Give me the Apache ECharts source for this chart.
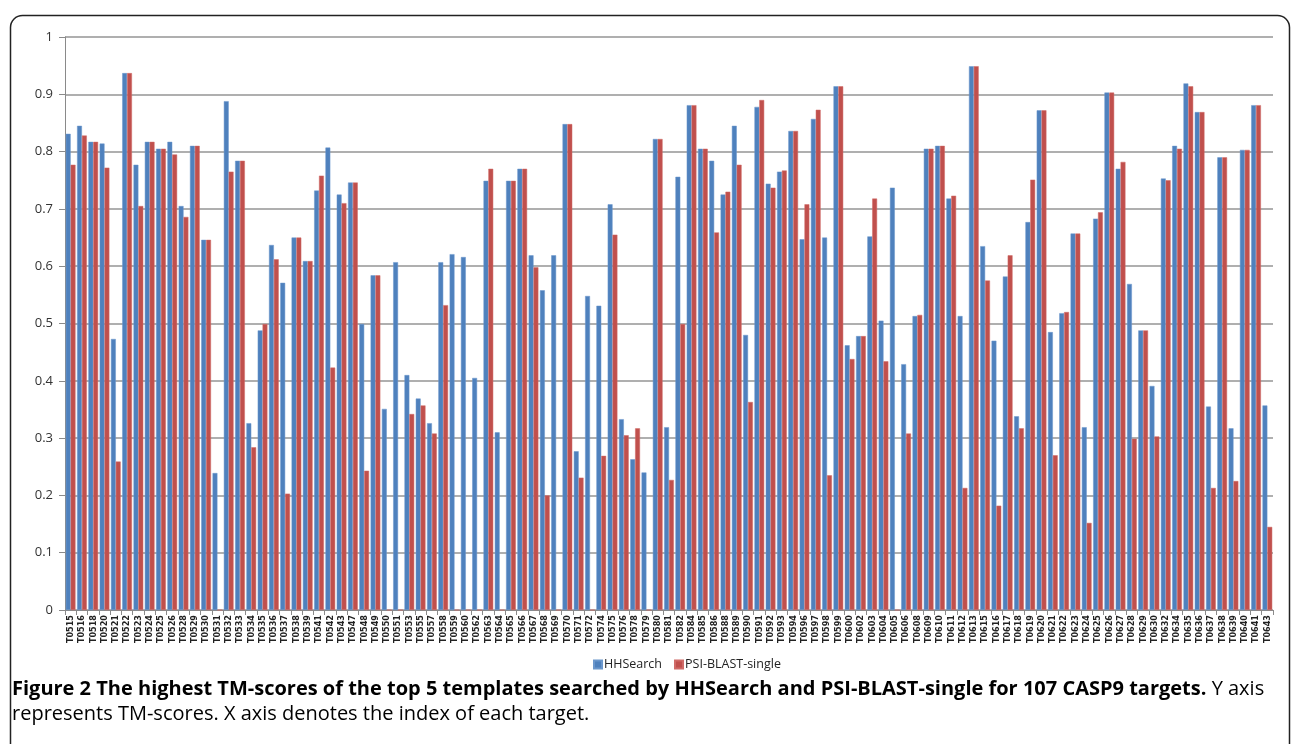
<!DOCTYPE html>
<html>
<head>
<meta charset="utf-8">
<script src="https://cdn.jsdelivr.net/npm/echarts@6/dist/echarts.min.js"></script>
<style>
html,body{margin:0;padding:0;background:#fff;}
#chart{width:1293px;height:744px;}
</style>
</head>
<body>
<div id="chart"></div>
<script>
const categories = ["T0515","T0516","T0518","T0520","T0521","T0522","T0523","T0524","T0525","T0526","T0528","T0529","T0530","T0531","T0532","T0533","T0534","T0535","T0536","T0537","T0538","T0539","T0541","T0542","T0543","T0547","T0548","T0549","T0550","T0551","T0553","T0555","T0557","T0558","T0559","T0560","T0562","T0563","T0564","T0565","T0566","T0567","T0568","T0569","T0570","T0571","T0572","T0574","T0575","T0576","T0578","T0579","T0580","T0581","T0582","T0584","T0585","T0586","T0588","T0589","T0590","T0591","T0592","T0593","T0594","T0596","T0597","T0598","T0599","T0600","T0602","T0603","T0604","T0605","T0606","T0608","T0609","T0610","T0611","T0612","T0613","T0615","T0616","T0617","T0618","T0619","T0620","T0621","T0622","T0623","T0624","T0625","T0626","T0627","T0628","T0629","T0630","T0632","T0634","T0635","T0636","T0637","T0638","T0639","T0640","T0641","T0643"];

const hhsearch = [0.831,0.845,0.817,0.814,0.473,0.937,0.777,0.817,0.805,0.817,0.705,0.810,0.646,0.239,0.888,0.784,0.326,0.488,0.637,0.571,0.650,0.609,0.732,0.807,0.725,0.746,0.499,0.584,0.351,0.607,0.410,0.369,0.326,0.607,0.621,0.616,0.405,0.749,0.310,0.749,0.770,0.619,0.558,0.619,0.848,0.277,0.548,0.531,0.708,0.333,0.263,0.240,0.822,0.319,0.756,0.881,0.805,0.784,0.725,0.845,0.480,0.878,0.744,0.765,0.836,0.647,0.857,0.650,0.914,0.462,0.478,0.652,0.505,0.737,0.429,0.513,0.805,0.810,0.718,0.513,0.949,0.635,0.470,0.582,0.338,0.677,0.872,0.485,0.518,0.657,0.319,0.683,0.903,0.770,0.569,0.488,0.391,0.753,0.810,0.919,0.869,0.355,0.790,0.317,0.803,0.881,0.357];

const psiblast = [0.777,0.828,0.817,0.772,0.259,0.937,0.705,0.817,0.805,0.795,0.686,0.810,0.646,0,0.765,0.784,0.284,0.499,0.612,0.203,0.650,0.609,0.758,0.423,0.710,0.746,0.243,0.584,0,0,0.342,0.357,0.308,0.532,0,0,0,0.770,0,0.749,0.770,0.598,0.200,0,0.848,0.231,0,0.269,0.655,0.305,0.317,0,0.822,0.227,0.499,0.881,0.805,0.659,0.730,0.777,0.363,0.890,0.737,0.767,0.836,0.708,0.873,0.235,0.914,0.438,0.478,0.718,0.434,0,0.308,0.515,0.805,0.810,0.723,0.213,0.949,0.575,0.182,0.619,0.317,0.751,0.872,0.270,0.520,0.657,0.152,0.694,0.903,0.782,0.299,0.488,0.303,0.750,0.805,0.914,0.869,0.213,0.790,0.225,0.803,0.881,0.145];

const seriesNames = ["HHSearch","PSI-BLAST-single"];
const captionBold = "Figure 2 The highest TM-scores of the top 5 templates searched by HHSearch and PSI-BLAST-single for 107 CASP9 targets.";
const captionLine1 = " Y axis";
const captionLine2 = "represents TM-scores. X axis denotes the index of each target.";

const chart = echarts.init(document.getElementById('chart'));
chart.setOption({
  backgroundColor: '#ffffff',
  animation: false,
  grid: {left: 65, right: 20, top: 37, bottom: 134, containLabel: false},
  legend: {
    data: seriesNames,
    left: 588, top: 653,
    icon: 'rect', itemWidth: 8, itemHeight: 8, itemGap: 12,
    textStyle: {fontFamily: 'Open Sans', fontSize: 12.5, color: '#222', padding: [0,0,0,-3]}
  },
  xAxis: {
    type: 'category',
    data: categories,
    axisLine: {lineStyle: {color: '#8a8a8a', width: 1}},
    axisTick: {show: true, length: 5, lineStyle: {color: '#8a8a8a'}},
    axisLabel: {interval: 0, rotate: 90, fontSize: 9, fontWeight: 'bold', fontFamily: 'DejaVu Sans Condensed, DejaVu Sans', color: '#222', margin: 5}
  },
  yAxis: {
    type: 'value', min: 0, max: 1, interval: 0.1,
    axisLine: {show: true, lineStyle: {color: '#8a8a8a', width: 1}},
    axisTick: {show: true, length: 6, inside: false, lineStyle: {color: '#8a8a8a'}},
    splitLine: {show: true, lineStyle: {color: '#959595', width: 1.5}},
    axisLabel: {fontSize: 13, fontFamily: 'Open Sans', color: '#333', margin: 12}
  },
  series: [
    {name: seriesNames[0], type: 'bar', data: hhsearch, barGap: '0%', barCategoryGap: '14%',
     itemStyle: {color: '#4f81bd', borderColor: '#6b97cc', borderWidth: 0.5}},
    {name: seriesNames[1], type: 'bar', data: psiblast,
     itemStyle: {color: '#c0504d', borderColor: '#d06a67', borderWidth: 0.5}}
  ],
  graphic: [
    {type: 'rect', left: 8, top: 13, silent: true,
     shape: {width: 1279, height: 800, r: 12},
     style: {fill: 'none', stroke: '#222', lineWidth: 1.5}},
    {type: 'text', left: 12, top: 679, silent: true,
     style: {
       text: '{b|' + captionBold + '}{n|' + captionLine1 + '}\n{n|' + captionLine2 + '}',
       rich: {
         b: {fontFamily: 'Open Sans', fontWeight: 'bold', fontSize: 20, color: '#231f20', lineHeight: 25},
         n: {fontFamily: 'Open Sans', fontSize: 20, color: '#231f20', lineHeight: 25}
       }
     }}
  ]
});
</script>
</body>
</html>
